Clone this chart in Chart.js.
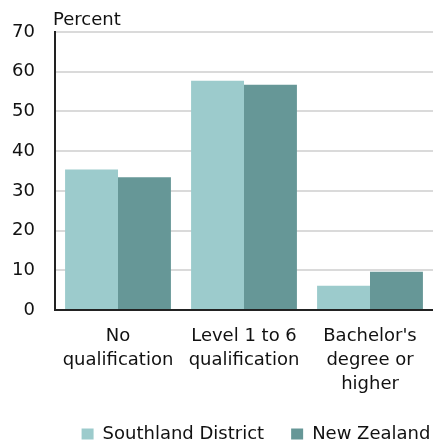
<!DOCTYPE html>
<html>
<head>
<meta charset="utf-8">
<script src="https://cdn.jsdelivr.net/npm/chart.js@4"></script>
<style>
  html, body { margin: 0; padding: 0; background: #fff; overflow: hidden; }
  #wrap { width: 512px; height: 445px; }
</style>
</head>
<body>
<div id="wrap"><canvas id="Chart"></canvas></div>
<script>
const categories = [['No', 'qualification'], ['Level 1 to 6', 'qualification'], ["Bachelor's", 'degree or', 'higher']];
const southland = [35.4, 57.7, 6.1];
const newZealand = [33.4, 56.7, 9.6];
const yTicks = [0, 10, 20, 30, 40, 50, 60, 70];

const FONT = 'DejaVu Sans';

// "Percent" label sitting above the y axis
const unitLabel = {
  id: 'unitLabel',
  afterDraw(chart) {
    const ctx = chart.ctx;
    ctx.save();
    ctx.font = '18px "' + FONT + '"';
    ctx.fillStyle = '#111';
    ctx.textAlign = 'left';
    ctx.textBaseline = 'alphabetic';
    ctx.fillText('Percent', chart.chartArea.left - 2, chart.chartArea.top - 7);
    ctx.restore();
  }
};

const ctx = document.getElementById('Chart');
new Chart(ctx, {
  type: 'bar',
  data: {
    labels: categories,
    datasets: [
      { label: 'Southland District', data: southland, backgroundColor: '#9ccbcc', borderWidth: 0 },
      { label: 'New Zealand', data: newZealand, backgroundColor: '#669797', borderWidth: 0 }
    ]
  },
  options: {
    responsive: true,
    maintainAspectRatio: false,
    animation: false,
    layout: { padding: { top: 32, bottom: -8 } },
    categoryPercentage: 0.84,
    barPercentage: 1.0,
    scales: {
      x: {
        afterFit(s) { s.height = 88; },
        grid: { display: false, drawTicks: false },
        border: { display: true, color: '#222', width: 2 },
        ticks: {
          color: '#111',
          padding: 14,
          maxRotation: 0,
          autoSkip: false,
          font: { family: FONT, size: 18, lineHeight: 1.33 }
        }
      },
      y: {
        min: 0,
        max: 70,
        afterFit(s) { s.width = 55; },
        afterBuildTicks(s) { s.ticks = yTicks.map(v => ({ value: v })); },
        grid: { color: '#dadada', lineWidth: 2, drawTicks: false },
        border: { display: true, color: '#222', width: 2 },
        ticks: {
          color: '#111',
          padding: 20,
          font: { family: FONT, size: 18 }
        }
      },
      y2: {
        type: 'linear',
        position: 'right',
        display: true,
        afterFit(s) { s.width = 79; },
        grid: { display: false, drawTicks: false },
        border: { display: false },
        ticks: { display: false }
      }
    },
    plugins: {
      legend: {
        position: 'bottom',
        labels: {
          boxWidth: 12,
          boxHeight: 11,
          padding: 27,
          color: '#111',
          font: { family: FONT, size: 18 }
        }
      },
      tooltip: { enabled: false }
    }
  },
  plugins: [unitLabel]
});
</script>
</body>
</html>
